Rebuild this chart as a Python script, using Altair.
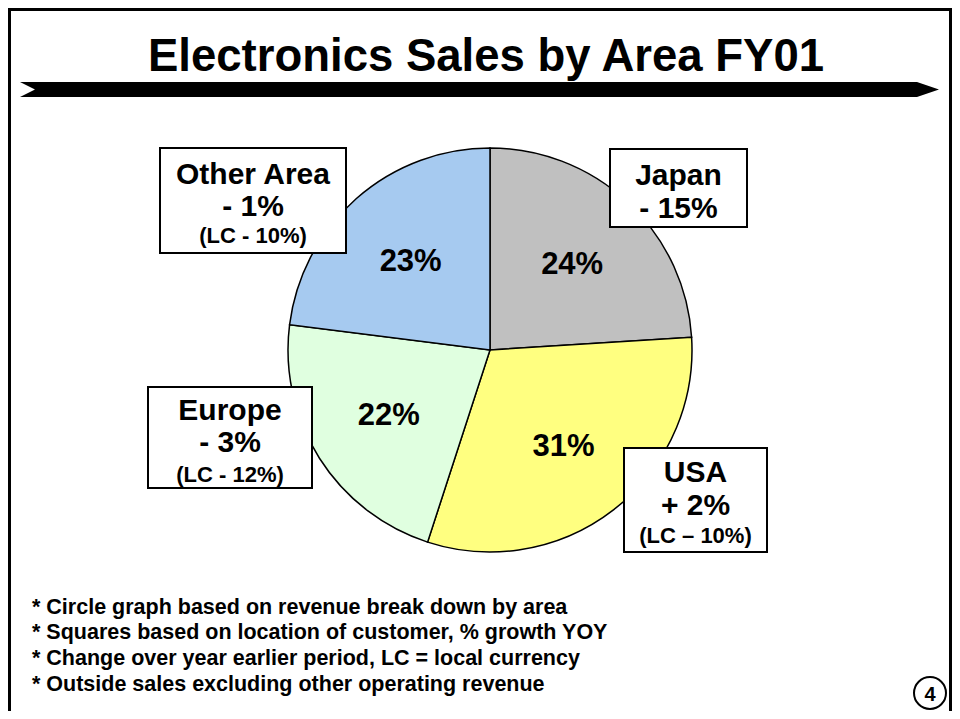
import altair as alt
import pandas as pd

# ---------------- data ----------------
areas = ["Japan", "USA", "Europe", "Other Area"]
shares = [24, 31, 22, 23]
colors = ["#C0C0C0", "#FFFF80", "#E0FFE0", "#A6CAF0"]
growth = ["- 15%", "+ 2%", "- 3%", "- 1%"]
local_currency = ["", "(LC \u2013 10%)", "(LC - 12%)", "(LC - 10%)"]
title_text = "Electronics Sales by Area FY01"
footnotes = [
    "* Circle graph based on revenue break down by area",
    "* Squares based on location of customer, % growth YOY",
    "* Change over year earlier period, LC = local currency",
    "* Outside sales excluding other operating revenue",
]
page_number = "4"

# ---------------- layout (reference page pixels) ----------------
W, H = 944, 703
M = 8
FONT = "Liberation Sans"
pie_cx, pie_cy, pie_r, label_r = 490, 350, 202, 120
box_left = [610, 624, 148, 160]
box_right = [747, 767, 312, 346]
box_top = [149, 448, 387, 148]
box_bottom = [227, 552, 488, 253]
line_base = [[185, 218, 0], [482, 515, 543], [420, 452, 482], [184, 216, 243]]
line_size = [30, 30, 22]
foot_x, foot_base, foot_size = 32, [614, 639, 665, 691], 21.5
title_x, title_base, title_size = 486, 71, 45.5
pct_size = 31

xs = alt.Scale(domain=[M, W + M], range=[0, W], nice=False, zero=False)
ys = alt.Scale(domain=[M, H + M], range=[0, H], nice=False, zero=False)


def X(f):
    return alt.X(f, scale=xs, axis=None)


def Y(f):
    return alt.Y(f, scale=ys, axis=None)


# frame of the slide
frame_df = pd.DataFrame({"x": [9.5], "x2": [950.5], "y": [9.5], "y2": [760]})
frame = alt.Chart(frame_df).mark_rect(fill="white", stroke="black", strokeWidth=3).encode(
    x=X("x:Q"), x2="x2:Q", y=Y("y:Q"), y2="y2:Q"
)

# arrow bar under the title
bar_w = 919.0
hh = 7.5 / (bar_w / 2)
tip = 22 / (bar_w / 2)
notch = 15 / (bar_w / 2)
arrow_path = (
    f"M -1 {-hh:.5f} L {1 - tip:.5f} {-hh:.5f} L 1 0 L {1 - tip:.5f} {hh:.5f} "
    f"L -1 {hh:.5f} L {-1 + notch:.5f} 0 Z"
)
bar_df = pd.DataFrame({"x": [20 + bar_w / 2], "y": [89.5]})
bar = alt.Chart(bar_df).mark_point(
    shape=arrow_path, size=bar_w ** 2, filled=True, color="black", opacity=1, strokeWidth=0
).encode(x=X("x:Q"), y=Y("y:Q"))

# title
title_df = pd.DataFrame({"label": [title_text], "x": [title_x], "y": [title_base]})
title = alt.Chart(title_df).mark_text(
    font=FONT, fontWeight="bold", fontSize=title_size, align="center", baseline="alphabetic", color="black"
).encode(x=X("x:Q"), y=Y("y:Q"), text="label:N")

# pie
pie_df = pd.DataFrame({"area": areas, "share": shares, "order": list(range(len(areas))),
                       "pct": [f"{s}%" for s in shares]})
pie = alt.Chart(pie_df).mark_arc(radius=pie_r, stroke="black", strokeWidth=1.5).encode(
    theta=alt.Theta("share:Q", stack=True),
    color=alt.Color("area:N", scale=alt.Scale(domain=areas, range=colors), legend=None),
    order=alt.Order("order:Q"),
    x=alt.value(pie_cx - M),
    y=alt.value(pie_cy - M),
)
pct = alt.Chart(pie_df).mark_text(
    radius=label_r, font=FONT, fontWeight="bold", fontSize=pct_size, align="center", baseline="middle",
    color="black"
).encode(
    theta=alt.Theta("share:Q", stack=True),
    order=alt.Order("order:Q"),
    text="pct:N",
    x=alt.value(pie_cx - M),
    y=alt.value(pie_cy - M + 2),
)

# label boxes
box_df = pd.DataFrame({"x": box_left, "x2": box_right, "y": box_top, "y2": box_bottom})
boxes = alt.Chart(box_df).mark_rect(fill="white", stroke="black", strokeWidth=2).encode(
    x=X("x:Q"), x2="x2:Q", y=Y("y:Q"), y2="y2:Q"
)
rows = []
for i, a in enumerate(areas):
    cx = (box_left[i] + box_right[i]) / 2
    for j, t in enumerate([a, growth[i], local_currency[i]]):
        if t:
            rows.append({"label": t, "x": cx, "y": line_base[i][j], "size": line_size[j]})
box_text = alt.Chart(pd.DataFrame(rows)).mark_text(
    font=FONT, fontWeight="bold", align="center", baseline="alphabetic", color="black"
).encode(x=X("x:Q"), y=Y("y:Q"), text="label:N", size=alt.Size("size:Q", scale=None))

# footnotes
foot_df = pd.DataFrame({"label": footnotes, "x": [foot_x] * len(footnotes), "y": foot_base})
foot = alt.Chart(foot_df).mark_text(
    font=FONT, fontWeight="bold", fontSize=foot_size, align="left", baseline="alphabetic", color="black"
).encode(x=X("x:Q"), y=Y("y:Q"), text="label:N")

# page number
pg_df = pd.DataFrame({"label": [page_number], "x": [930], "y": [693], "ty": [700.5]})
pg_circle = alt.Chart(pg_df).mark_point(
    shape="circle", size=32 ** 2, filled=False, stroke="black", strokeWidth=2, opacity=1
).encode(x=X("x:Q"), y=Y("y:Q"))
pg_text = alt.Chart(pg_df).mark_text(
    font=FONT, fontWeight="bold", fontSize=20, align="center", baseline="alphabetic", color="black"
).encode(x=X("x:Q"), y=Y("ty:Q"), text="label:N")

chart = alt.layer(frame, bar, title, pie, pct, boxes, box_text, foot, pg_circle, pg_text).properties(
    width=W, height=H, autosize=alt.AutoSizeParams(type="none"), padding=0, background="white"
).configure_view(stroke=None)

chart.save("out.html", embed_options={"renderer": "svg", "actions": False})
